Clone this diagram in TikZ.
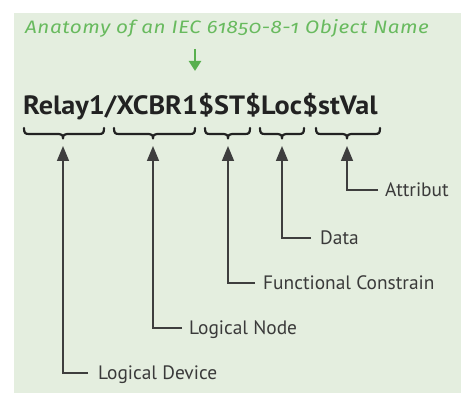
\documentclass[tikz,border=0pt]{standalone}
\usepackage{fontspec}
\usetikzlibrary{arrows.meta}
\setmainfont{PT Sans}
\newfontfamily\namefont[FakeStretch=1.065]{PT Sans}
\newfontfamily\headfont[Numbers=OldStyle,FakeStretch=1.15,LetterSpace=3]{Fira Sans}

\definecolor{panelbg}{RGB}{228,238,223}
\definecolor{headgreen}{RGB}{104,186,94}
\definecolor{arrowgreen}{RGB}{88,176,78}
\definecolor{namedark}{RGB}{34,34,34}
\definecolor{labeldark}{RGB}{58,58,58}
\definecolor{linedark}{RGB}{62,62,62}

% under-brace: left end, tip, right end
\newcommand\objbrace[3]{%
  \draw[bracestyle] (#1,128) .. controls (#1,133) and (#1+1,134) .. (#1+5,134)
    -- (#2-4,134) .. controls (#2-1.5,134) and (#2,135) .. (#2,138.5)
    .. controls (#2,135) and (#2+1.5,134) .. (#2+4,134)
    -- (#3-5,134) .. controls (#3-1,134) and (#3,133) .. (#3,128);}

\begin{document}
\begin{tikzpicture}[x=1pt,y=-1pt,
  bracestyle/.style={draw=namedark,line width=2.2pt,line cap=round,line join=round},
  conn/.style={draw=linedark,line width=1.6pt,-{Triangle[width=12pt,length=15pt]}},
  partlabel/.style={anchor=west,inner sep=0pt,text height=13pt,text depth=0pt,
    text=labeldark,font=\fontsize{19.4}{19.4}\selectfont},
  headarrow/.style={draw=arrowgreen,line width=2.4pt,-{Triangle[width=12pt,length=10pt]}}]

\useasboundingbox (0,0) rectangle (461,393);
\fill[white] (0,0) rectangle (461,393);
\fill[panelbg] (14,13) rectangle (461,393);

% heading and its pointer
\node (head) [anchor=base west,inner sep=0pt,text=headgreen,
  font=\headfont\itshape\fontsize{18}{18}\selectfont] at (25,34)
  {Anatomy of an IEC 61850-8-1 Object Name};
\coordinate (ha) at (195,49);
\coordinate (hb) at (195,71);
\draw[headarrow] (ha) -- (hb);

% the object name
\node (objname) [anchor=base west,inner sep=0pt,text=namedark,
  font=\namefont\bfseries\fontsize{26.5}{26.5}\selectfont] at (23,115)
  {Relay1/XCBR1\$ST\$Loc\$stVal};

% braces under each part
\objbrace{24}{63}{104}
\objbrace{114}{153}{195}
\objbrace{205}{228}{250}
\objbrace{260}{282}{304}
\objbrace{316}{347}{380}

% arrow tips below the braces
\coordinate (t1) at (63,146);
\coordinate (t2) at (153,146);
\coordinate (t3) at (228,146);
\coordinate (t4) at (282,146);
\coordinate (t5) at (347,146);

% part labels
\node (attr) [partlabel] at (385,190) {Attribut};
\node (data) [partlabel] at (320,238) {Data};
\node (fc)   [partlabel] at (263,283) {Functional Constrain};
\node (ln)   [partlabel] at (189,328) {Logical Node};
\node (ld)   [partlabel] at (98,373)  {Logical Device};

% elbow connectors
\draw[conn] ([xshift=-7pt]attr.west) -| (t5);
\draw[conn] ([xshift=-9pt]data.west) -| (t4);
\draw[conn] ([xshift=-8pt]fc.west) -| (t3);
\draw[conn] ([xshift=-7pt]ln.west) -| (t2);
\draw[conn] ([xshift=-10pt]ld.west) -| (t1);
\end{tikzpicture}
\end{document}
